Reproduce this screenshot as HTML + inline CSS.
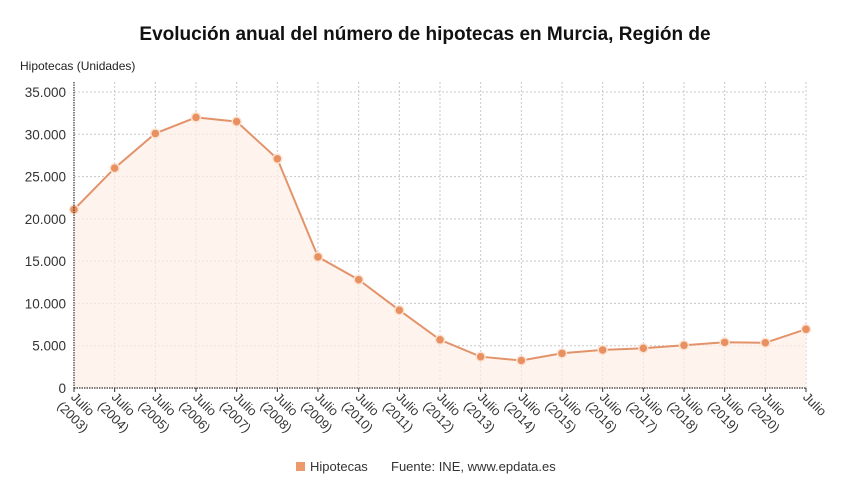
<!DOCTYPE html>
<html><head><meta charset="utf-8"><style>
body{margin:0;background:#fff;}
svg{display:block;font-family:"Liberation Sans",sans-serif;}
</style></head><body>
<svg width="850" height="499" viewBox="0 0 850 499" xmlns="http://www.w3.org/2000/svg">
<text x="425" y="40" text-anchor="middle" font-size="19" font-weight="bold" fill="#111">Evolución anual del número de hipotecas en Murcia, Región de</text>
<text x="20" y="70" font-size="12" fill="#222">Hipotecas (Unidades)</text>
<g id="grid" stroke="#c8c8c8" stroke-dasharray="2,2" stroke-width="1"></g>
<g id="yl" font-size="13.5" fill="#333" text-anchor="end"></g>
<path id="area" fill="#fdeee6" opacity="0.7"/>
<path id="line" fill="none" stroke="#e2936a" stroke-width="2"/>
<g id="pts"></g>
<line x1="74" y1="82" x2="74" y2="388" stroke="#333" stroke-dasharray="1.5,1" stroke-width="1.2"/>
<line x1="74" y1="388" x2="806" y2="388" stroke="#333" stroke-dasharray="1.5,1" stroke-width="1.2"/>
<g id="xl" font-size="13" fill="#333" text-anchor="middle"></g>
<rect x="296" y="462" width="9" height="9" fill="#ec9a6c"/>
<text x="310" y="471" font-size="13" fill="#333">Hipotecas</text>
<text x="391" y="471" font-size="13" fill="#333">Fuente: INE, www.epdata.es</text>
</svg>
<script>
const ns="http://www.w3.org/2000/svg";
const vals=[21100,26000,30100,32000,31500,27100,15500,12800,9200,5700,3700,3250,4100,4500,4700,5050,5400,5350,6950];
const x0=74,dx=(806-74)/18,Y=v=>388-v*296/35000;
function el(t,a,p,txt){const e=document.createElementNS(ns,t);for(const k in a)e.setAttribute(k,a[k]);if(txt!=null)e.textContent=txt;document.getElementById(p).appendChild(e);return e;}
for(let i=1;i<=7;i++){const y=Y(i*5000);el('line',{x1:74,x2:806,y1:y,y2:y},'grid');}
for(let i=0;i<=7;i++){el('text',{x:66,y:Y(i*5000)+5},'yl',i==0?'0':(i*5).toFixed(0)+'.000');}
for(let i=1;i<19;i++){const x=x0+i*dx;el('line',{x1:x,x2:x,y1:82,y2:388},'grid');}
let d='';vals.forEach((v,i)=>{d+=(i?'L':'M')+(x0+i*dx).toFixed(1)+','+Y(v).toFixed(1);});
document.getElementById('line').setAttribute('d',d);
document.getElementById('area').setAttribute('d',d+'L806,388L74,388Z');
vals.forEach((v,i)=>{el('circle',{cx:x0+i*dx,cy:Y(v),r:4.5,fill:'#e8905f',stroke:'#fbe3d4','stroke-width':1.5},'pts');});
for(let i=0;i<19;i++){const x=x0+i*dx;
el('line',{x1:x,x2:x,y1:388,y2:392,stroke:'#333'},'xl');
const g=el('g',{transform:`translate(${x},396) rotate(45)`},'xl');
const t1=document.createElementNS(ns,'text');t1.setAttribute('x',12);t1.setAttribute('y',4);t1.textContent='Julio';g.appendChild(t1);
if(i<18){const t2=document.createElementNS(ns,'text');t2.setAttribute('x',14);t2.setAttribute('y',20);t2.textContent='('+(2003+i)+')';g.appendChild(t2);}
}
</script>
</body></html>
